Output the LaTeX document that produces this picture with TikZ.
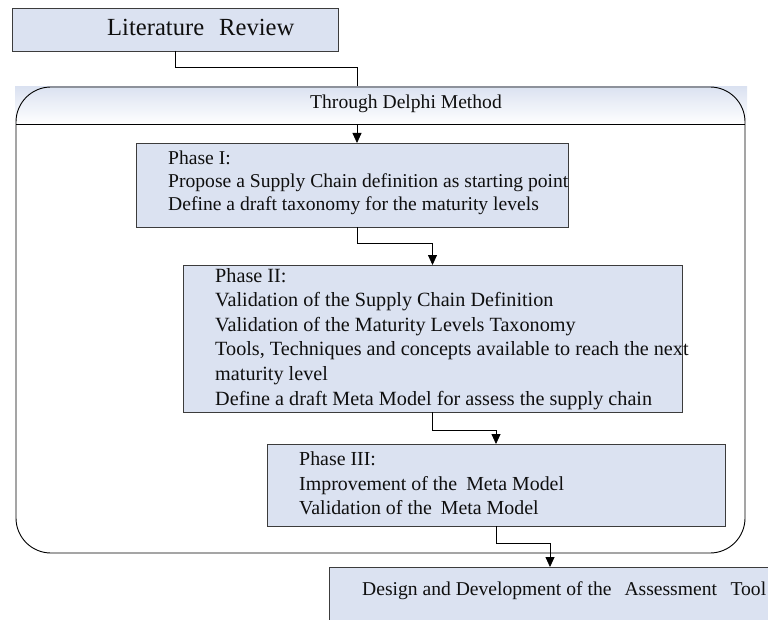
\documentclass[tikz,border=0pt]{standalone}
\usepackage{fontspec}
\setmainfont{Liberation Serif}
\usetikzlibrary{arrows.meta,calc}
\definecolor{boxfill}{RGB}{219,226,241}
\definecolor{boxline}{RGB}{60,60,60}
\definecolor{inktext}{RGB}{15,15,15}

\begin{document}
\begin{tikzpicture}[x=1bp,y=-1bp,
  stagebox/.style={draw=boxline,line width=0.9bp,fill=boxfill,rectangle,
    anchor=north west,inner sep=0pt,outer sep=0pt},
  % multi-line texts are placed by the baseline of their last line
  stagetext/.style={anchor=base west,align=left,inner sep=0pt,text=inktext,
    font=\fontsize{19.6bp}{24.6bp}\selectfont},
  flow/.style={draw=black,line width=0.8bp,-{Triangle[length=10bp,width=9bp]}},
  frame/.style={draw=black,line width=0.9bp}
]
\useasboundingbox (0,0) rectangle (768,620);

% starting box
\node[stagebox,minimum width=326bp,minimum height=43bp] (lit) at (12,8) {};
\node[stagetext,font=\fontsize{24.6bp}{28bp}\selectfont] (littext) at (107,36) {Literature\hspace{15bp}Review};

% phase boxes
\node[stagebox,minimum width=432bp,minimum height=84bp] (phase1) at (136,143) {};
\node[stagetext,font=\fontsize{19.6bp}{23bp}\selectfont] (phase1text) at (168,211)
  {Phase I:\\Propose a Supply Chain definition as starting point\\Define a draft taxonomy for the maturity levels};

\node[stagebox,minimum width=499bp,minimum height=147bp] (phase2) at (183,265) {};
\node[stagetext,font=\fontsize{20.2bp}{24.6bp}\selectfont] (phase2text) at (215,405)
  {Phase II:\\Validation of the Supply Chain Definition\\Validation of the Maturity Levels Taxonomy\\Tools, Techniques and concepts available to reach the next\\maturity level\\Define a draft Meta Model for assess the supply chain};

\node[stagebox,minimum width=458bp,minimum height=82bp] (phase3) at (267,444) {};
\node[stagetext,font=\fontsize{19.9bp}{24.3bp}\selectfont] (phase3text) at (299,514.5)
  {Phase III:\\Improvement of the\hspace{9bp}Meta Model\\Validation of the\hspace{9bp}Meta Model};

% final box, running off the page
\node[stagebox,minimum width=442bp,minimum height=70bp] (design) at (329,567) {};
\node[stagetext] (designtext) at (362,595) {Design and Development of the\hspace{13bp}Assessment\hspace{13.5bp}Tool};

% connectors
\draw[flow] (lit.south) -- ++(0,16) -| ([xshift=5bp]phase1.north);
\draw[flow] ([xshift=5bp]phase1.south) -- ++(0,16) -| (phase2.north);
\draw[flow] (phase2.south) -- ++(0,18) -| (phase3.north);
\draw[flow] (phase3.south) -- ++(0,17) -| (design.north);

% Delphi container: shaded header strip, then the rounded outline
\node[anchor=north west,inner sep=0pt,outer sep=0pt,minimum width=732bp,minimum height=37bp,
  top color=boxfill,bottom color=white] (delphihead) at (15,87) {};
\node[stagetext] (delphitext) at (310,109) {Through Delphi Method};
\node[frame,rectangle,rounded corners=35bp,anchor=north west,inner sep=0pt,outer sep=0pt,
  minimum width=729bp,minimum height=466bp] (delphi) at (16,87) {};
\draw[frame] (delphi.west |- delphihead.south) -- (delphi.east |- delphihead.south);
\end{tikzpicture}
\end{document}
